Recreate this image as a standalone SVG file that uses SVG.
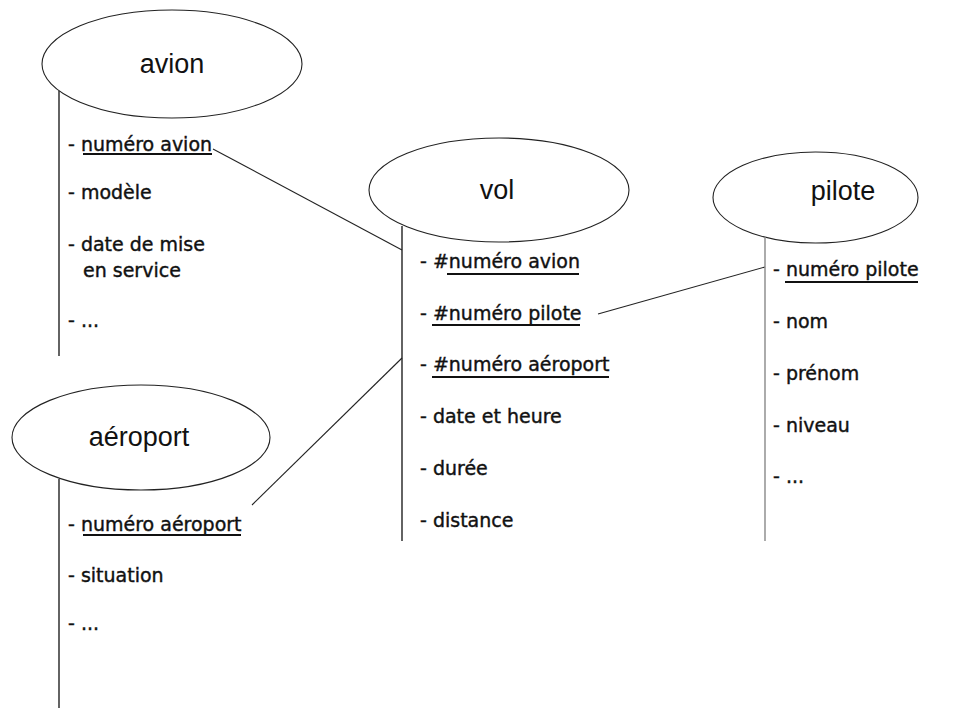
<svg xmlns="http://www.w3.org/2000/svg" width="962" height="711" viewBox="0 0 962 711">
<style>
.ell{fill:#fff;stroke:#222;stroke-width:1.1}
.title{font-family:"Liberation Sans",Arial,sans-serif;font-size:27px;fill:#111;text-anchor:middle}
.item{font-family:"DejaVu Sans",sans-serif;font-size:19px;fill:#111;stroke:#111;stroke-width:0.4}
.ul{stroke:#111;stroke-width:2}
.stem{stroke:#222;stroke-width:1.4}
.conn{stroke:#222;stroke-width:1.1;fill:none}
</style>
<rect width="962" height="711" fill="#fff"/>
<g id="connectors">
<line class="conn" x1="213" y1="149" x2="402" y2="250"/>
<line class="conn" x1="598" y1="314" x2="765" y2="267"/>
<line class="conn" x1="402" y1="358" x2="252" y2="505"/>
</g>
<g id="avion">
<ellipse class="ell" cx="172" cy="64" rx="130" ry="54"/>
<text class="title" x="172" y="73">avion</text>
<line class="stem" x1="59" y1="91" x2="59" y2="356"/>
<text class="item" x="68" y="151">- numéro avion</text>
<line class="ul" x1="83" y1="154" x2="212" y2="154"/>
<text class="item" x="68" y="199">- modèle</text>
<text class="item" x="68" y="251">- date de mise</text>
<text class="item" x="83" y="277">en service</text>
<text class="item" x="68" y="327">- ...</text>
</g>
<g id="vol">
<ellipse class="ell" cx="499" cy="190" rx="130" ry="52"/>
<text class="title" x="497" y="199">vol</text>
<line class="stem" x1="402" y1="226" x2="402" y2="541"/>
<text class="item" x="420" y="268">- #numéro avion</text>
<line class="ul" x1="447" y1="274" x2="579" y2="274"/>
<text class="item" x="420" y="320">- #numéro pilote</text>
<line class="ul" x1="432" y1="325" x2="580" y2="325"/>
<text class="item" x="420" y="371">- #numéro aéroport</text>
<line class="ul" x1="432" y1="377" x2="609" y2="377"/>
<text class="item" x="420" y="423">- date et heure</text>
<text class="item" x="420" y="475">- durée</text>
<text class="item" x="420" y="527">- distance</text>
</g>
<g id="pilote">
<ellipse class="ell" cx="815.5" cy="197.5" rx="102.5" ry="45.5"/>
<text class="title" x="843" y="200">pilote</text>
<line class="stem" x1="765" y1="237" x2="765" y2="541" style="stroke:#888"/>
<text class="item" x="773" y="276">- numéro pilote</text>
<line class="ul" x1="785" y1="282" x2="918" y2="282"/>
<text class="item" x="773" y="328">- nom</text>
<text class="item" x="773" y="380">- prénom</text>
<text class="item" x="773" y="432">- niveau</text>
<text class="item" x="773" y="483">- ...</text>
</g>
<g id="aeroport">
<ellipse class="ell" cx="141" cy="437.5" rx="129" ry="52.5"/>
<text class="title" x="139" y="446">aéroport</text>
<line class="stem" x1="59" y1="479" x2="59" y2="708"/>
<text class="item" x="68" y="531">- numéro aéroport</text>
<line class="ul" x1="83" y1="535" x2="241" y2="535"/>
<text class="item" x="68" y="582">- situation</text>
<text class="item" x="68" y="630">- ...</text>
</g>
</svg>
